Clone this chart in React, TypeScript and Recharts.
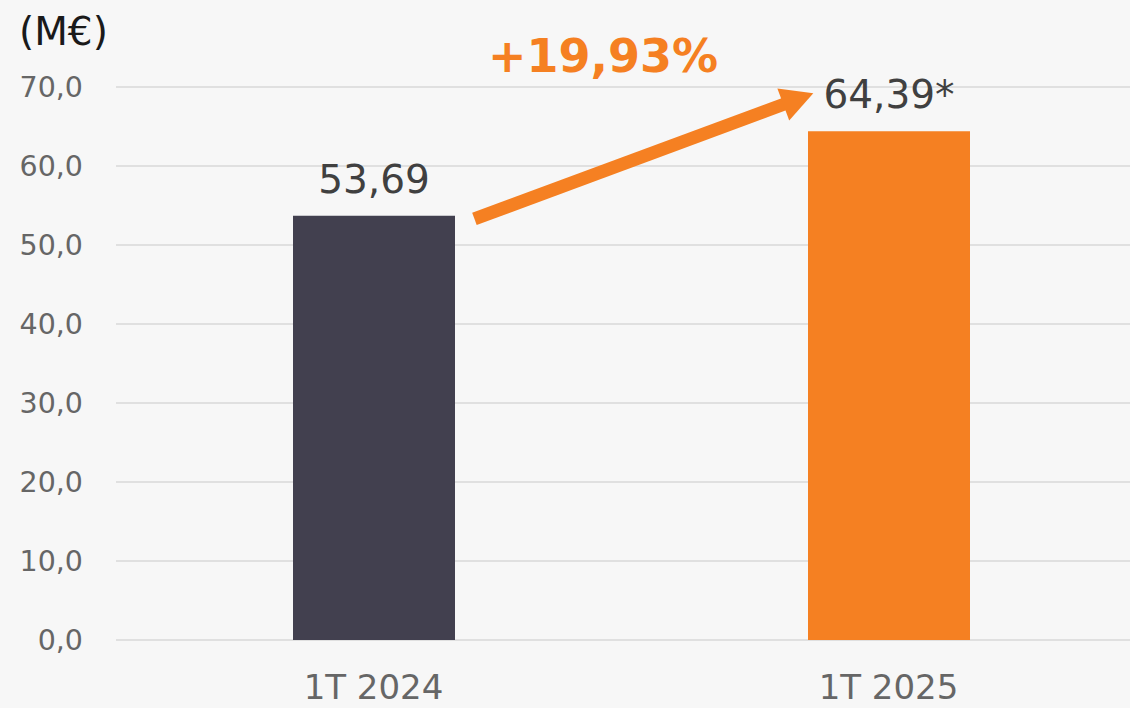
import { BarChart, Bar, XAxis, YAxis, CartesianGrid, Cell, LabelList, ReferenceLine } from "recharts";

const CATEGORIES = ["1T 2024", "1T 2025"];
const VALUES = [53.69, 64.39];
const VALUE_LABELS = ["53,69", "64,39*"];
const BAR_COLORS = ["#42404F", "#F58022"];
const Y_TICKS = [0, 10, 20, 30, 40, 50, 60, 70];
const GROWTH_LABEL = "+19,93%";
const UNIT_LABEL = "(M€)";

// arrow anchors in data units (x: category index + 0.5 axis)
const ARROW_FROM = { x: 0.696, y: 53.3 };
const ARROW_TO = { x: 1.354, y: 69.2 };

const ORANGE = "#F58022";
const FONT = "'DejaVu Sans', sans-serif";

const data = CATEGORIES.map((c, i) => ({
  pos: i + 0.5,
  name: c,
  value: VALUES[i],
  label: VALUE_LABELS[i],
}));

const ArrowShape = (props: any) => {
  const { x1, y1, x2, y2 } = props;
  const dx = x2 - x1;
  const dy = y2 - y1;
  const len = Math.sqrt(dx * dx + dy * dy);
  const ux = dx / len;
  const uy = dy / len;
  const headLen = 32;
  const headHalf = 17;
  const bx = x2 - ux * headLen;
  const by = y2 - uy * headLen;
  const px = -uy;
  const py = ux;
  return (
    <g>
      <line x1={x1} y1={y1} x2={bx + ux * 2} y2={by + uy * 2} stroke={ORANGE} strokeWidth={13} />
      <polygon
        points={`${x2},${y2} ${bx + px * headHalf},${by + py * headHalf} ${bx - px * headHalf},${by - py * headHalf}`}
        fill={ORANGE}
      />
    </g>
  );
};

export default function App() {
  return (
    <div
      style={{
        position: "fixed",
        left: 0,
        top: 0,
        width: 1130,
        height: 708,
        background: "#F7F7F7",
        overflow: "hidden",
        fontFamily: FONT,
      }}
    >
      <div style={{ position: "absolute", left: 19, top: 12, fontSize: 39, lineHeight: 1, color: "#1A1A1A" }}>
        {UNIT_LABEL}
      </div>
      <div
        style={{
          position: "absolute",
          left: 488,
          top: 33,
          fontSize: 46,
          lineHeight: 1,
          fontWeight: 700,
          color: ORANGE,
        }}
      >
        {GROWTH_LABEL}
      </div>
      <BarChart
        width={1146}
        height={708}
        data={data}
        margin={{ top: 87, right: 0, left: 0, bottom: 0 }}
        style={{ position: "absolute", left: 0, top: 0 }}
      >
        <CartesianGrid horizontal vertical={false} stroke="#D9D9D9" strokeWidth={1.5} />
        <XAxis
          type="number"
          dataKey="pos"
          domain={[0, 2]}
          ticks={[0.5, 1.5]}
          tickFormatter={(v: number) => CATEGORIES[Math.floor(v)]}
          axisLine={false}
          tickLine={false}
          tickSize={0}
          tickMargin={35}
          height={68}
          tick={{ fontSize: 34, fill: "#666666", fontFamily: FONT }}
        />
        <YAxis
          domain={[0, 70]}
          ticks={Y_TICKS}
          tickFormatter={(v: number) => v.toFixed(1).replace(".", ",")}
          axisLine={false}
          tickLine={false}
          tickSize={0}
          tickMargin={33}
          width={116}
          tick={{ fontSize: 28.5, fill: "#666666", fontFamily: FONT }}
        />
        <Bar dataKey="value" barSize={162} isAnimationActive={false}>
          {data.map((d, i) => (
            <Cell key={d.name} fill={BAR_COLORS[i]} />
          ))}
          <LabelList
            dataKey="label"
            position="top"
            offset={23}
            style={{ fontSize: 39, fill: "#404040", fontFamily: FONT }}
          />
        </Bar>
        <ReferenceLine
          segment={[ARROW_FROM, ARROW_TO]}
          ifOverflow="visible"
          shape={(p: any) => <ArrowShape {...p} />}
        />
      </BarChart>
    </div>
  );
}
